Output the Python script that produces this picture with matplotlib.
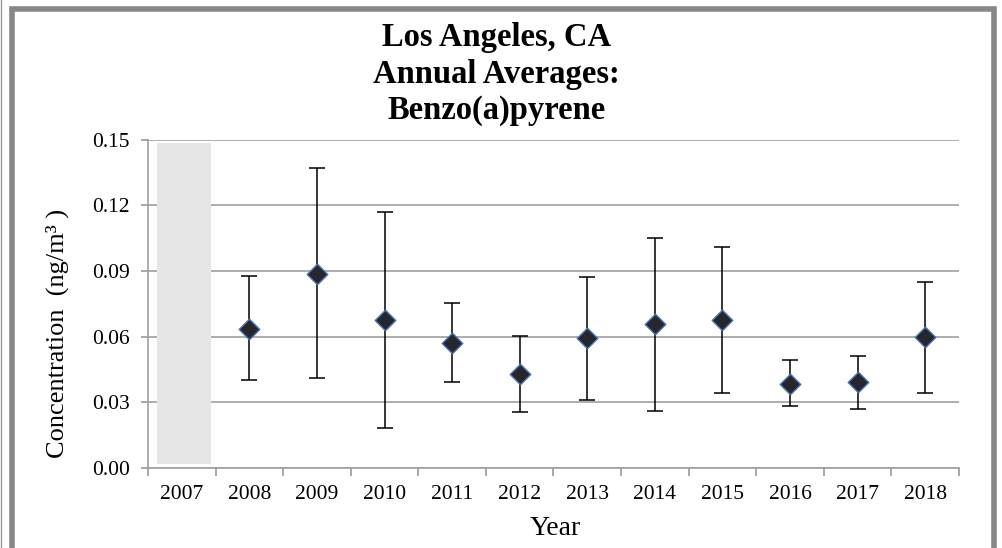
import matplotlib.pyplot as plt
import matplotlib.patches as patches
import numpy as np

plt.rcParams['font.family'] = ['Liberation Serif', 'DejaVu Serif']

years = ['2007', '2008', '2009', '2010', '2011', '2012', '2013', '2014', '2015', '2016', '2017', '2018']
# annual averages (2007 has no data -> shaded)
avg = [np.nan, 0.0637, 0.0887, 0.0674, 0.0573, 0.0428, 0.0593, 0.0658, 0.0678, 0.0384, 0.0392, 0.0599]
upper = [np.nan, 0.0878, 0.1369, 0.1169, 0.0756, 0.0605, 0.0875, 0.1050, 0.1012, 0.0493, 0.0512, 0.0852]
lower = [np.nan, 0.0401, 0.0412, 0.0184, 0.0392, 0.0255, 0.0310, 0.0261, 0.0344, 0.0282, 0.0270, 0.0344]
shaded_years = ['2007']
shade_top = 0.1485
shade_bottom = 0.002

fig = plt.figure(figsize=(10.02, 5.48), dpi=100)
ax = fig.add_axes([0.1477, 0.146, 0.8093, 0.599])

x = np.arange(len(years))
avg = np.array(avg)
err = np.array([avg - np.array(lower), np.array(upper) - avg])

# shaded no-data year
for yr in shaded_years:
    i = years.index(yr)
    ax.bar(i + 0.03, shade_top - shade_bottom, bottom=shade_bottom, width=0.8,
           color='#e6e6e6', zorder=1)

ax.errorbar(x, avg, yerr=err, fmt='none', ecolor='black', elinewidth=1.1,
            capsize=6, capthick=1.1, zorder=3)
ax.scatter(x, avg, marker='D', s=110, color='#26262f', edgecolors='#4f74b0',
           linewidths=1.0, zorder=4)

ax.set_xlim(-0.5, len(years) - 0.5)
ax.set_ylim(0, 0.15)
ax.set_yticks([0, 0.03, 0.06, 0.09, 0.12, 0.15])
ax.set_yticklabels(['0.00', '0.03', '0.06', '0.09', '0.12', '0.15'], fontsize=15.5)
ax.set_xticks(x)
ax.set_xticklabels(years, fontsize=15.5)
ax.set_xticks(np.arange(-0.5, len(years), 1), minor=True)
ax.tick_params(axis='x', which='major', length=0, pad=12)
ax.tick_params(axis='x', which='minor', length=6, color='#999999', width=1.2)
ax.tick_params(axis='y', length=5, color='#999999', width=1.2, pad=8)
ax.grid(axis='y', color='#a0a0a0', linewidth=1.2, zorder=0)
ax.set_axisbelow(True)
for s in ['top', 'right']:
    ax.spines[s].set_visible(False)
for s in ['left', 'bottom']:
    ax.spines[s].set_color('#a0a0a0')
    ax.spines[s].set_linewidth(1.2)

ax.set_xlabel('Year', fontsize=20)
ax.xaxis.set_label_coords(0.502, -0.145)
ax.set_ylabel('Concentration  (ng/m³ )', fontsize=19)
ax.yaxis.set_label_coords(-0.097, 0.41)
ax.set_title('Los Angeles, CA\nAnnual Averages:\nBenzo(a)pyrene', fontsize=23.5,
             fontweight='bold', linespacing=1.22, pad=15, x=0.43)

# outer frame
frame = patches.Rectangle((11.5 / 1002, -0.05), (993.5 - 11.5) / 1002, 1 - 8.5 / 548 + 0.05,
                          transform=fig.transFigure, fill=False, edgecolor='#878787',
                          linewidth=4)
fig.patches.append(frame)
fig.add_artist(plt.Line2D([0.5 / 1002, 0.5 / 1002], [0, 1], transform=fig.transFigure,
                          color='#999999', linewidth=1))

fig.savefig('out.png', dpi=100)
